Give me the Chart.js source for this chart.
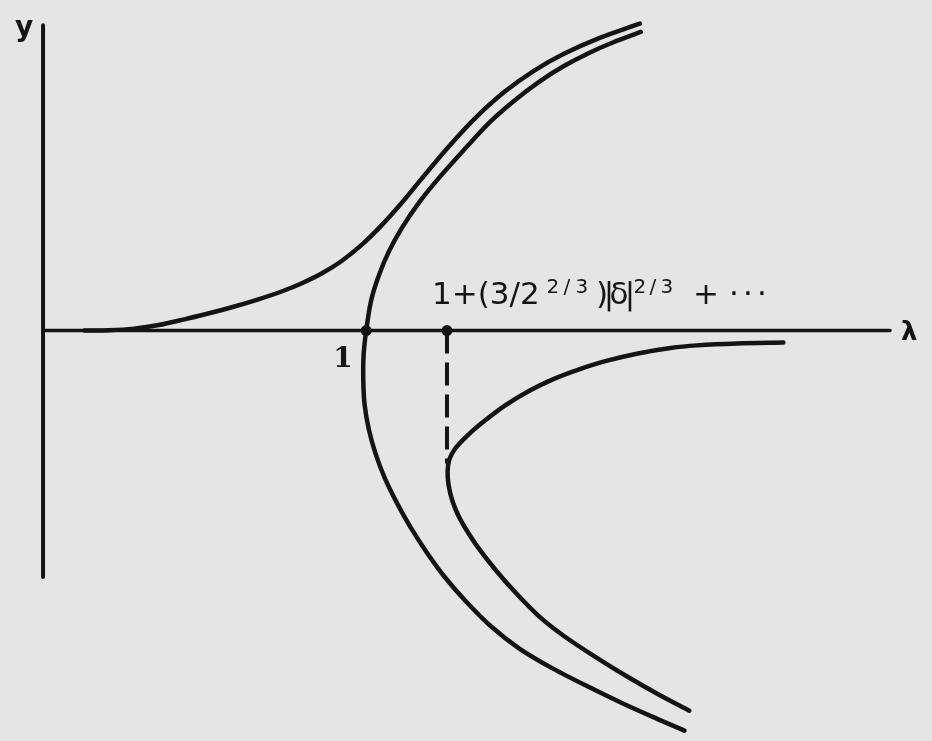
<!DOCTYPE html>
<html>
<head>
<meta charset="utf-8">
<script src="https://cdn.jsdelivr.net/npm/chart.js@4"></script>
<style>
  html, body { margin: 0; padding: 0; background: #e5e5e5; }
  #wrap { width: 932px; height: 741px; position: relative; }
</style>
</head>
<body>
<div id="wrap"><canvas id="bif"></canvas></div>
<script>
// branches of the bifurcation diagram, lambda on x, y on y
const upperBranch = [
  [0.128, 0], [0.205, 0.001], [0.281, 0.006], [0.358, 0.017], [0.434, 0.034],
  [0.511, 0.053], [0.587, 0.073], [0.664, 0.096], [0.740, 0.122], [0.801, 0.147],
  [0.862, 0.177], [0.924, 0.216], [0.985, 0.265], [1.046, 0.325], [1.107, 0.393],
  [1.168, 0.467], [1.251, 0.566], [1.336, 0.658], [1.428, 0.741], [1.520, 0.807],
  [1.612, 0.859], [1.719, 0.907], [1.847, 0.953]
];
const pitchforkBranch = [
  [1.850, 0.927], [1.765, 0.895], [1.688, 0.861], [1.612, 0.821], [1.535, 0.772],
  [1.459, 0.714], [1.382, 0.646], [1.301, 0.559], [1.228, 0.477], [1.164, 0.398],
  [1.112, 0.321], [1.070, 0.245], [1.038, 0.168], [1.015, 0.092],
  [1.000, 0], [0.992, -0.076], [0.991, -0.153], [0.995, -0.229], [1.008, -0.306],
  [1.029, -0.382], [1.058, -0.459], [1.095, -0.535], [1.138, -0.612], [1.187, -0.688],
  [1.243, -0.765], [1.309, -0.841], [1.385, -0.917], [1.474, -0.987], [1.581, -1.051],
  [1.688, -1.106], [1.801, -1.161], [1.902, -1.206], [1.985, -1.242]
];
const foldBranch = [
  [2.291, -0.037], [2.147, -0.040], [2.024, -0.046], [1.942, -0.054], [1.841, -0.071],
  [1.740, -0.095], [1.657, -0.121], [1.581, -0.150], [1.505, -0.187], [1.428, -0.234],
  [1.352, -0.292], [1.306, -0.333], [1.275, -0.367], [1.257, -0.401], [1.252, -0.437],
  [1.255, -0.480], [1.266, -0.526], [1.284, -0.572], [1.306, -0.612], [1.346, -0.673],
  [1.398, -0.740], [1.459, -0.810], [1.535, -0.887], [1.612, -0.948], [1.703, -1.009],
  [1.801, -1.070], [1.902, -1.128], [2.000, -1.180]
];
const markedPoints = [[1.0, 0], [1.25, 0]];
const foldDrop = [[1.25, 0], [1.25, -0.413]];
const lambdaAxis = [[0, 0], [2.621, 0]];
const yAxis = [[0, 0.948], [0, -0.765]];

const ink = '#141414';
const toXY = arr => arr.map(p => ({ x: p[0], y: p[1] }));

function curve(data, extra) {
  return Object.assign({
    data: toXY(data),
    showLine: true,
    borderColor: ink,
    borderWidth: 4.5,
    pointRadius: 0,
    tension: 0.3,
    borderCapStyle: 'round',
    borderJoinStyle: 'round',
    fill: false
  }, extra || {});
}

const labelsPlugin = {
  id: 'labels',
  afterDatasetsDraw(chart) {
    const ctx = chart.ctx;
    const xs = chart.scales.x, ys = chart.scales.y;
    const x0 = xs.getPixelForValue(0), y0 = ys.getPixelForValue(0);
    const xFold = xs.getPixelForValue(1.25);
    const xOne = xs.getPixelForValue(1);
    ctx.save();
    ctx.fillStyle = ink;
    ctx.textBaseline = 'alphabetic';

    ctx.font = 'bold 28px "DejaVu Sans"';
    ctx.fillText('y', x0 - 28, 36);
    ctx.font = 'bold 26px "DejaVu Sans"';
    ctx.fillText('λ', 901, y0 + 9);
    ctx.font = 'bold 28px "DejaVu Serif"';
    ctx.fillText('1', xOne - 33, y0 + 36);

    // 1+(3/2^{2/3})|δ|^{2/3}+...  glyphs set by centre, hand-lettered spacing
    const base = y0 - 27;
    const left = xFold - 15;
    const main = '31px "DejaVu Sans"', sup = '20px "DejaVu Sans"';
    ctx.textAlign = 'left';
    ctx.font = main;
    ctx.fillText('1+(3/2', left, base);
    ctx.textAlign = 'center';
    const glyphs = [
      ['2', 121, -11, sup], ['/', 135, -11, sup], ['3', 150, -11, sup],
      [')', 170, 0, main], ['|', 177, 0, main], ['δ', 187, 0, main], ['|', 198, 0, main],
      ['2', 208, -11, sup], ['/', 221, -11, sup], ['3', 235, -11, sup],
      ['+', 274, 0, main],
      ['·', 302, 0, main], ['·', 316, 0, main], ['·', 330, 0, main]
    ];
    glyphs.forEach(([t, dx, dy, f]) => {
      ctx.font = f;
      ctx.fillText(t, left + dx, base + dy);
    });
    ctx.restore();
  }
};

new Chart(document.getElementById('bif'), {
  type: 'scatter',
  data: {
    datasets: [
      curve(yAxis, { tension: 0, borderWidth: 4 }),
      curve(lambdaAxis, { tension: 0, borderWidth: 3.5 }),
      curve(upperBranch),
      curve(pitchforkBranch),
      curve(foldBranch),
      curve(foldDrop, { tension: 0, borderWidth: 4, borderDash: [23, 9], borderCapStyle: 'butt' }),
      {
        data: toXY(markedPoints),
        showLine: false,
        pointRadius: 5.5,
        pointBackgroundColor: ink,
        pointBorderWidth: 0
      }
    ]
  },
  options: {
    responsive: true,
    maintainAspectRatio: false,
    animation: false,
    layout: { padding: 0 },
    plugins: { legend: { display: false }, tooltip: { enabled: false } },
    scales: {
      x: { type: 'linear', display: false, min: -0.1162, max: 2.734 },
      y: { type: 'linear', display: false, min: -1.257, max: 1.009 }
    }
  },
  plugins: [labelsPlugin]
});
</script>
</body>
</html>
